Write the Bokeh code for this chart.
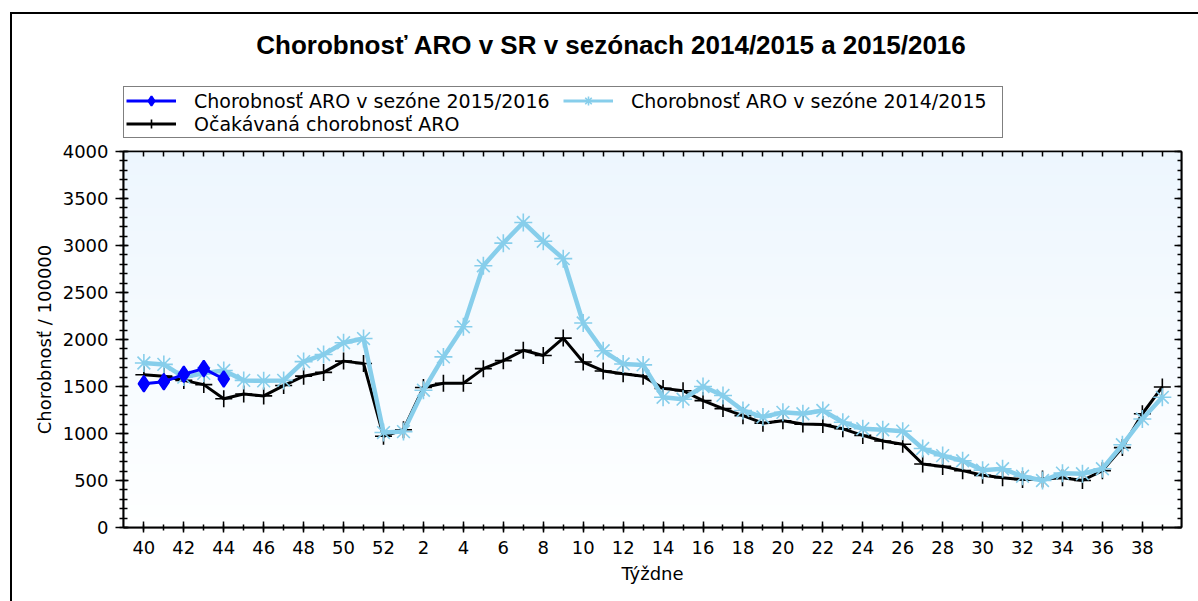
import numpy as np
from bokeh.plotting import figure
from bokeh.layouts import column
from bokeh.models import (FixedTicker, LinearAxis, Legend, LegendItem, Range1d, Label)
from bokeh.embed import file_html
from bokeh.resources import INLINE

# ---------------- data ----------------
weeks = list(range(40, 53)) + list(range(1, 40))
season_2015_16 = [1530, 1550, 1630, 1690, 1580]
season_2014_15 = [1750, 1735, 1600, 1640, 1670, 1565, 1560, 1565, 1765, 1840, 1965, 2010, 1010,
                  1020, 1460, 1815, 2135, 2785, 3025, 3245, 3045, 2860, 2175, 1880, 1740, 1730,
                  1385, 1365, 1500, 1405, 1245, 1175, 1225, 1210, 1245, 1120, 1050, 1040, 1025,
                  840, 765, 710, 610, 625, 545, 500, 578, 572, 625, 880, 1155, 1385]
expected = [1625, 1610, 1565, 1520, 1370, 1420, 1400, 1510, 1610, 1650, 1770, 1745, 970,
            1040, 1490, 1535, 1535, 1690, 1775, 1885, 1830, 2015, 1760, 1665, 1635, 1610,
            1480, 1455, 1350, 1265, 1190, 1110, 1135, 1100, 1095, 1050, 980, 920, 885,
            675, 650, 605, 555, 530, 510, 515, 530, 500, 605, 850, 1210, 1495]
tick_weeks = [40, 42, 44, 46, 48, 50, 52, 2, 4, 6, 8, 10, 12, 14, 16, 18, 20, 22, 24, 26,
              28, 30, 32, 34, 36, 38]
y_ticks = list(range(0, 4001, 500))
y_minor = list(range(0, 4001, 100))

title_text = "Chorobnosť ARO v SR v sezónach 2014/2015 a 2015/2016"
label_cur = "Chorobnosť ARO v sezóne 2015/2016"
label_prev = "Chorobnosť ARO v sezóne 2014/2015"
label_exp = "Očakávaná chorobnosť ARO"

x_all = list(range(len(weeks)))
x_cur = x_all[:len(season_2015_16)]
major_idx = [weeks.index(w) for w in tick_weeks]

FONT = "DejaVu Sans"
LIGHT = "#87CEEB"
BLUE = "#0000FF"

W = 1186
H_TOP = 128
H_MAIN = 459
B_LEFT, B_RIGHT = 111, 17

# ---------------- header (title + legend) ----------------
hdr = figure(width=W, height=H_TOP, output_backend="svg", toolbar_location=None,
             x_range=Range1d(B_LEFT, W - B_RIGHT), y_range=Range1d(0, H_TOP),
             x_axis_type=None, y_axis_type=None,
             min_border_left=B_LEFT, min_border_right=B_RIGHT,
             min_border_top=0, min_border_bottom=0)
hdr.title_location = None
hdr.xgrid.visible = False
hdr.ygrid.visible = False
hdr.outline_line_color = None
hdr.background_fill_color = "white"
hdr.border_fill_color = "white"

hdr.add_layout(Label(x=599, y=H_TOP - 30, text=title_text, text_align="center",
                     text_baseline="middle", text_font="Liberation Sans",
                     text_font_size="26px", text_font_style="bold", text_color="black"))

# legend swatches (same styles as the series; no visible data of their own)
nan = [float("nan")]
k_bl_l = hdr.line(nan, nan, line_color=BLUE, line_width=3)
k_bl_m = hdr.scatter(nan, nan, marker="diamond", fill_color=BLUE, line_color=BLUE, line_width=2)
k_lb_l = hdr.line(nan, nan, line_color=LIGHT, line_width=3)
k_lb_m = hdr.scatter(nan, nan, marker="asterisk", line_color=LIGHT, line_width=1.6)
k_bk_l = hdr.line(nan, nan, line_color="black", line_width=3)
k_bk_m = hdr.scatter(nan, nan, marker="cross", line_color="black", line_width=1.6)

legend = Legend(items=[LegendItem(label=label_cur, renderers=[k_bl_l, k_bl_m]),
                       LegendItem(label=label_prev, renderers=[k_lb_l, k_lb_m]),
                       LegendItem(label=label_exp, renderers=[k_bk_l, k_bk_m])],
                orientation="horizontal", ncols=2, location=(0, 4),
                label_text_font=FONT, label_text_font_size="19px", label_text_color="black",
                glyph_width=50, glyph_height=23, label_standoff=18, spacing=0,
                padding=2, margin=0, label_width=369, label_height=20,
                border_line_color="black", border_line_width=1.5,
                background_fill_color="white", background_fill_alpha=1.0)
hdr.add_layout(legend, "center")

# ---------------- main chart ----------------
p = figure(width=W, height=H_MAIN, output_backend="svg", toolbar_location=None,
           x_range=Range1d(-1.02, 51.96), y_range=Range1d(0, 4000),
           min_border_left=B_LEFT, min_border_right=B_RIGHT, min_border_top=9,
           min_border_bottom=74)
p.title_location = None
p.xgrid.visible = False
p.ygrid.visible = False
p.outline_line_color = "black"
p.outline_line_width = 1.5
p.background_fill_color = "white"
p.border_fill_color = "white"

# gradient backdrop of the plot area
n = 100
img = np.empty((n, 1), dtype=np.uint32)
view = img.view(dtype=np.uint8).reshape((n, 1, 4))
for i in range(n):
    t = i / (n - 1)
    view[i, 0, 0] = int(round(254 - 17 * t))
    view[i, 0, 1] = int(round(255 - 9 * t))
    view[i, 0, 2] = int(round(255 - 1 * t))
    view[i, 0, 3] = 255
p.image_rgba(image=[img], x=-1.02, y=0, dw=52.98, dh=4000)

# series
p.line(x_all, expected, line_color="black", line_width=3)
p.scatter(x_all, expected, marker="cross", size=17, line_color="black", line_width=1.6)
p.line(x_all, season_2014_15, line_color=LIGHT, line_width=4.5)
p.scatter(x_all, season_2014_15, marker="asterisk", size=18, line_color=LIGHT, line_width=1.6)
p.line(x_cur, season_2015_16, line_color=BLUE, line_width=3)
p.scatter(x_cur, season_2015_16, marker="diamond", size=16, fill_color=BLUE,
          line_color=BLUE, line_width=2)

# axes
xa = p.xaxis[0]
xa.ticker = FixedTicker(ticks=major_idx, minor_ticks=x_all)
xa.major_label_overrides = {i: str(weeks[i]) for i in major_idx}
xa.axis_label = "Týždne"
ya = p.yaxis[0]
ya.ticker = FixedTicker(ticks=y_ticks, minor_ticks=y_minor)
ya.axis_label = "Chorobnosť / 100000"

for ax in (xa, ya):
    ax.axis_line_color = "black"
    ax.axis_line_width = 2
    ax.major_tick_line_color = "black"
    ax.minor_tick_line_color = "black"
    ax.major_tick_line_width = 1.5
    ax.minor_tick_line_width = 1.5
    ax.major_label_text_font = FONT
    ax.major_label_text_font_size = "18px"
    ax.major_label_text_color = "black"
    ax.axis_label_text_font = FONT
    ax.axis_label_text_font_size = "18px"
    ax.axis_label_text_font_style = "normal"
    ax.axis_label_text_color = "black"

xa.major_tick_in = 6
xa.major_tick_out = 5
xa.minor_tick_in = 3
xa.minor_tick_out = 3
xa.major_label_standoff = 8
xa.axis_label_standoff = 6

ya.major_tick_in = 5
ya.major_tick_out = 8
ya.minor_tick_in = 4
ya.minor_tick_out = 4
ya.major_label_standoff = 7
ya.axis_label_standoff = 5

top_ax = LinearAxis(ticker=FixedTicker(ticks=x_all, minor_ticks=[]),
                    major_label_overrides={i: "" for i in x_all},
                    major_tick_in=5, major_tick_out=0,
                    minor_tick_in=0, minor_tick_out=0, axis_line_width=1.5,
                    major_tick_line_width=1.5, major_label_standoff=0)
p.add_layout(top_ax, "above")
right_ax = LinearAxis(ticker=FixedTicker(ticks=y_ticks, minor_ticks=y_minor),
                      major_label_overrides={v: "" for v in y_ticks},
                      major_tick_in=7, major_tick_out=0,
                      minor_tick_in=4, minor_tick_out=0, axis_line_width=2,
                      major_tick_line_width=1.5, minor_tick_line_width=1.5,
                      major_label_standoff=0)
p.add_layout(right_ax, "right")

page = column(hdr, p, spacing=0, margin=(12, 0, 0, 10),
              styles={"border-left": "2px solid black", "border-top": "2px solid black"})

open("out.html", "w").write(file_html(page, INLINE))
